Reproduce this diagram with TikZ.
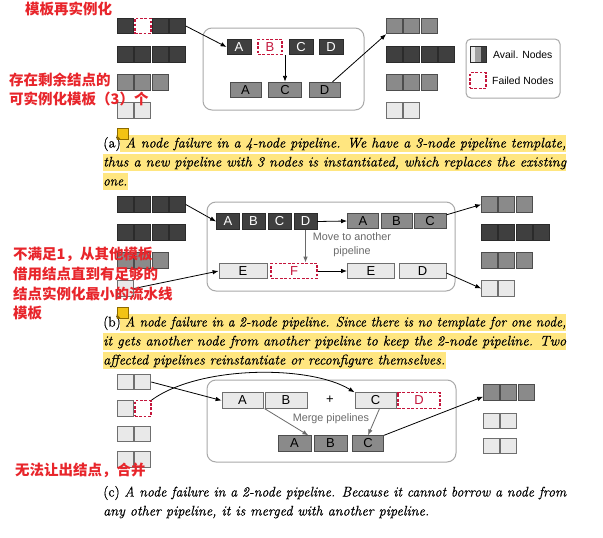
\documentclass[tikz,border=0pt]{standalone}
\usepackage{fontspec}
\usepackage{graphicx}
\setsansfont{Liberation Sans}
\newfontfamily\cjkfont{Noto Sans CJK SC}
\newfontfamily\capfont{Latin Modern Roman}[FakeBold=0.5,Numbers=Lining]
\usetikzlibrary{arrows.meta,calc}
\definecolor{dkf}{HTML}{3F3F3F}
\definecolor{dkd}{HTML}{2B2B2B}
\definecolor{mdf}{HTML}{8A8A8A}
\definecolor{mdd}{HTML}{4D4D4D}
\definecolor{ltf}{HTML}{E9E9E9}
\definecolor{ltd}{HTML}{6F6F6F}
\definecolor{fred}{HTML}{C4163C}
\definecolor{ared}{HTML}{E8252B}
\definecolor{frm}{HTML}{A9A9A9}
\definecolor{hly}{HTML}{FFE680}
\definecolor{gry}{HTML}{6A6A6A}
\definecolor{icony}{HTML}{F2C314}
\definecolor{icond}{HTML}{8C6A00}
\newcommand\sqrowx[5]{\foreach \i in {1,...,#4} {\node[sqr,#5] (#1-\i) at ({#2+8.625+17.25*(\i-1)},#3) {};}}
\newcommand\capline[2]{\resizebox{#1}{\height}{#2}}
\tikzset{
  sqr/.style={rectangle, minimum width=16pt, minimum height=15.5pt, inner sep=0pt, line width=0.8pt},
  dk/.style={fill=dkf, draw=dkd},
  md/.style={fill=mdf, draw=mdd},
  lt/.style={fill=ltf, draw=ltd},
  fl/.style={draw=fred, line width=1.3pt, dash pattern=on 2.8pt off 1.6pt, fill=white},
  lbl/.style={rectangle, inner sep=0pt, line width=0.8pt, minimum height=15.5pt, font=\sffamily\fontsize{13}{13}\selectfont},
  pframe/.style={draw=frm, line width=1pt, rounded corners=9pt},
  arr/.style={-{Latex[length=6pt,width=4.5pt]}, line width=0.8pt, black},
  garr/.style={-{Latex[length=6pt,width=4.5pt]}, line width=0.8pt, gry},
  rednote/.style={font=\cjkfont\bfseries\fontsize{14.5}{14.5}\selectfont, text=ared, anchor=west, inner sep=0pt},
  captxt/.style={anchor=base west, inner sep=0pt, font=\capfont\fontsize{14}{16}\selectfont},
  gtext/.style={font=\sffamily\fontsize{10.8}{14}\selectfont, text=gry, align=center, inner sep=0pt},
  icn/.style={draw=icond, fill=icony, minimum size=11pt, inner sep=0pt, line width=0.6pt}
}
\begin{document}
\begin{tikzpicture}[x=1pt,y=-1pt]
\useasboundingbox[fill=white] (0,0) rectangle (603,538);

% ================= Panel (a) =================
\node[sqr,dk] (al1-1) at (125.625,26) {};
\node[sqr,fl] (al1-2) at (142.875,26) {};
\node[sqr,dk] (al1-3) at (160.125,26) {};
\node[sqr,dk] (al1-4) at (177.375,26) {};
\sqrowx{al2}{117}{54.5}{4}{dk}
\sqrowx{al3}{117}{82.5}{3}{md}
\sqrowx{al4}{117}{110.5}{2}{lt}

\sqrowx{ar1}{386}{26}{3}{md}
\sqrowx{ar2}{386}{54.5}{4}{dk}
\sqrowx{ar3}{386}{82.5}{3}{md}
\sqrowx{ar4}{386}{110.5}{2}{lt}

\draw[pframe] (203,28) rectangle (364,110);
\node[lbl,dk,text=white,minimum width=24pt] (aA) at (239,47) {A};
\node[lbl,fl,text=fred,minimum width=24pt] (aB) at (270,47) {B};
\node[lbl,dk,text=white,minimum width=24pt] (aC) at (301,47) {C};
\node[lbl,dk,text=white,minimum width=24pt] (aD) at (331,47) {D};
\node[lbl,md,minimum width=31pt] (aA2) at (245.5,90) {A};
\node[lbl,md,minimum width=33pt] (aC2) at (285,90) {C};
\node[lbl,md,minimum width=31pt] (aD2) at (324.5,90) {D};

\draw[arr] (aC2.north |- aB.south) -- (aC2.north);
\draw[arr] (al1-4.east) -- (aA.west);
\draw[arr] ([xshift=8pt]aD2.north) -- (ar1-1.south west);

% legend
\node[draw=frm, line width=1pt, rounded corners=5pt, minimum width=94pt, minimum height=59pt, inner sep=0pt] (leg) at (513,68.5) {};
\fill[ltf] (470,46.75) rectangle (474.5,62.25);
\fill[mdf!80!white] (474.5,46.75) rectangle (480.5,62.25);
\fill[dkf] (480.5,46.75) rectangle (486,62.25);
\node[sqr, draw=dkd] (legA) at (478,54.5) {};
\node[anchor=west, inner sep=0pt, font=\sffamily\fontsize{10.4}{12}\selectfont] (legAt) at (493,54.5) {Avail. Nodes};
\node[sqr, fl] (legF) at (478,80.5) {};
\node[anchor=west, inner sep=0pt, font=\sffamily\fontsize{10.4}{12}\selectfont] (legFt) at (492,80.5) {Failed Nodes};

% caption (a)
\fill[hly] (120,134.5) rectangle (566,151.5);
\fill[hly] (103,153.5) rectangle (566,170.5);
\fill[hly] (103,172.5) rectangle (128,189.5);
\node[captxt] (ca1) at (103,147.5) {\capline{463pt}{(a) \itshape A node failure in a 4-node pipeline. We have a 3-node pipeline template,}};
\node[captxt] (ca2) at (103,166.5) {\capline{463pt}{\itshape thus a new pipeline with 3 nodes is instantiated, which replaces the existing}};
\node[captxt] (ca3) at (103,185.5) {\capline{24pt}{\itshape one.}};
\node[icn] (ica) at (122.5,133.5) {};
\fill[icond] (ica.south west) -- ([xshift=4pt]ica.south west) -- ([yshift=4pt]ica.south west) -- cycle;

% ================= Panel (b) =================
\sqrowx{bl1}{117}{204.5}{4}{dk}
\sqrowx{bl2}{117}{232.5}{4}{dk}
\sqrowx{bl3}{117}{260.5}{3}{md}
\sqrowx{bl4}{117}{288.5}{1}{lt}

\sqrowx{br1}{481}{204.5}{3}{md}
\sqrowx{br2}{481}{232.5}{4}{dk}
\sqrowx{br3}{481}{260.5}{3}{md}
\sqrowx{br4}{481}{288.5}{2}{lt}

\draw[pframe] (207,202) rectangle (455,291);
\node[lbl,dk,text=white,minimum width=23pt] (bA) at (228,221.5) {A};
\node[lbl,dk,text=white,minimum width=23pt] (bB) at (253.5,221.5) {B};
\node[lbl,dk,text=white,minimum width=23pt] (bC) at (279.5,221.5) {C};
\node[lbl,dk,text=white,minimum width=23pt] (bD) at (305.5,221.5) {D};
\node[lbl,md,minimum width=31pt] (bA2) at (363,221) {A};
\node[lbl,md,minimum width=31pt] (bB2) at (396.5,221) {B};
\node[lbl,md,minimum width=32pt] (bC2) at (430,221) {C};
\node[lbl,lt,minimum width=48pt] (bE) at (243,271) {E};
\node[lbl,fl,text=fred,minimum width=46pt] (bF) at (294,271) {F};
\node[lbl,lt,minimum width=47pt] (bE2) at (371,271) {E};
\node[lbl,lt,minimum width=47pt] (bD2) at (422.5,271) {D};
\node[gtext] (bmv) at (352,245) {Move to another\\pipeline};

\draw[arr] (bD.east) -- (bA2.west);
\draw[garr] (bD.south) -- (bD.south |- bF.north);
\draw[arr] (bF.east) -- (bE2.west);
\draw[arr] (bl1-4.east) -- (bA.west);
\draw[arr] (bl4-1.east) -- (bE.west);
\draw[arr] ([yshift=-2pt]bC2.north east) -- (br1-1.west);
\draw[arr] ([yshift=-2pt]bD2.east) -- (br4-1.west);

% caption (b)
\fill[hly] (120,313.5) rectangle (566,330.5);
\fill[hly] (103,332.5) rectangle (566,349.5);
\fill[hly] (103,351.5) rectangle (446,368.5);
\node[captxt] (cb1) at (103,326.5) {\capline{463pt}{(b) \itshape A node failure in a 2-node pipeline. Since there is no template for one node,}};
\node[captxt] (cb2) at (103,345.5) {\capline{463pt}{\itshape it gets another node from another pipeline to keep the 2-node pipeline. Two}};
\node[captxt] (cb3) at (103,364.5) {\capline{342pt}{\itshape affected pipelines reinstantiate or reconfigure themselves.}};
\node[icn] (icb) at (122.5,312.5) {};
\fill[icond] (icb.south west) -- ([xshift=4pt]icb.south west) -- ([yshift=4pt]icb.south west) -- cycle;

% ================= Panel (c) =================
\sqrowx{cl1}{117}{382}{2}{lt}
\node[sqr,lt] (cl2-1) at (125.625,408.5) {};
\node[sqr,fl] (cl2-2) at (142.875,408.5) {};
\sqrowx{cl3}{117}{434}{2}{lt}
\sqrowx{cl4}{117}{459.5}{2}{lt}

\sqrowx{cr1}{483}{392.5}{3}{md}
\sqrowx{cr2}{483}{421}{2}{lt}
\sqrowx{cr3}{483}{446}{2}{lt}

\draw[pframe] (207,380) rectangle (456,462);
\node[lbl,lt,minimum width=41pt] (cA) at (242.5,400.5) {A};
\node[lbl,lt,minimum width=42pt] (cB) at (286,400.5) {B};
\node[font=\sffamily\fontsize{13}{13}\selectfont, inner sep=0pt] (cplus) at (330,400) {+};
\node[lbl,lt,minimum width=41pt] (cC) at (375.5,400.5) {C};
\node[lbl,fl,text=fred,minimum width=42pt] (cD) at (419,400.5) {D};
\node[lbl,md,minimum width=33pt] (cA2) at (294.5,443.5) {A};
\node[lbl,md,minimum width=33pt] (cB2) at (330.5,443.5) {B};
\node[lbl,md,minimum width=31pt] (cC2) at (368,443.5) {C};
\node[gtext] (cmg) at (331,418.5) {Merge pipelines};

\draw[garr] (cB.south west) -- ([xshift=-3pt]cA2.north east);
\draw[garr] ([xshift=4pt]cC.south) -- (cC2.north);
\draw[arr] (cl1-2.east) -- (cA.west);
\draw[arr] (cl2-2.north east) .. controls (200,365) and (310,365) .. (cC.north west);
\draw[arr] (cC2.north east) -- ([yshift=4pt]cr1-1.south west);

% caption (c)
\node[captxt] (cc1) at (103,496.5) {\capline{463pt}{(c) \itshape A node failure in a 2-node pipeline. Because it cannot borrow a node from}};
\node[captxt] (cc2) at (103,515.5) {\capline{326pt}{\itshape any other pipeline, it is merged with another pipeline.}};

% ================= red notes =================
\node[rednote] (n1) at (25,9) {模板再实例化};
\node[rednote] (n2) at (9,80) {存在剩余结点的};
\node[rednote] (n3) at (9,98.5) {可实例化模板（3）个};
\node[rednote] (n4) at (13,254.5) {不满足1，从其他模板};
\node[rednote] (n5) at (13,274) {借用结点直到有足够的};
\node[rednote] (n6) at (13,293.5) {结点实例化最小的流水线};
\node[rednote] (n7) at (13,313) {模板};
\node[rednote] (n8) at (15,470) {无法让出结点，合并};
\end{tikzpicture}
\end{document}
